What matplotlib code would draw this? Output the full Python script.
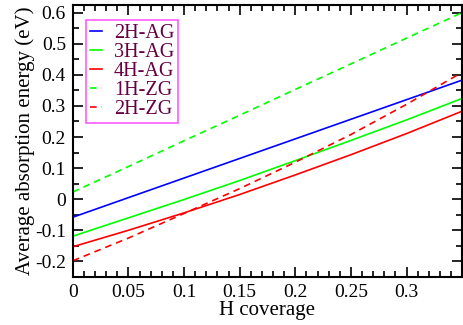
import numpy as np
import matplotlib
matplotlib.use("Agg")
from matplotlib import pyplot as plt
from matplotlib.ticker import MultipleLocator

# H coverage samples and energies (eV)
coverage = [0.0, 0.05, 0.10, 0.15, 0.20, 0.25, 0.30, 0.35]
e_2h_ag = [-0.058, 0.005, 0.068, 0.131, 0.194, 0.257, 0.320, 0.383]
e_3h_ag = [-0.119, -0.060, -0.001, 0.060, 0.124, 0.189, 0.255, 0.324]
e_4h_ag = [-0.153, -0.100, -0.044, 0.015, 0.078, 0.143, 0.211, 0.283]
e_1h_zg = [0.023, 0.105, 0.188, 0.270, 0.353, 0.435, 0.518, 0.600]
e_2h_zg = [-0.198, -0.125, -0.046, 0.034, 0.119, 0.208, 0.305, 0.408]

plt.rcParams["font.family"] = ["Liberation Serif", "DejaVu Serif"]

fig = plt.figure(figsize=(4.64, 3.25), dpi=100)
ax = fig.add_axes([0.157, 0.148, 0.839, 0.837])

lw = 1.2
ax.plot(coverage, e_2h_ag, color="#0000ff", lw=lw, label="2H-AG")
ax.plot(coverage, e_3h_ag, color="#00ff00", lw=lw, label="3H-AG")
ax.plot(coverage, e_4h_ag, color="#ff0000", lw=lw, label="4H-AG")
ax.plot(coverage, e_1h_zg, color="#00ff00", lw=lw, dashes=(4, 3), label="1H-ZG")
ax.plot(coverage, e_2h_zg, color="#ff0000", lw=lw, dashes=(4, 3), label="2H-ZG")

ax.set_xlim(0, 0.35)
ax.set_ylim(-0.25, 0.625)
ax.xaxis.set_minor_locator(MultipleLocator(0.01))
ax.yaxis.set_minor_locator(MultipleLocator(0.05))
ax.set_xticks([0, 0.05, 0.1, 0.15, 0.2, 0.25, 0.3])
ax.set_xticklabels(["0", "0.05", "0.1", "0.15", "0.2", "0.25", "0.3"])
ax.set_yticks([-0.2, -0.1, 0, 0.1, 0.2, 0.3, 0.4, 0.5, 0.6])
ax.set_yticklabels(["-0.2", "-0.1", "0", "0.1", "0.2", "0.3", "0.4", "0.5", "0.6"])

ax.tick_params(which="both", direction="in", top=True, right=True,
               labelsize=14, width=1.2, pad=5)
ax.tick_params(which="major", length=7)
ax.tick_params(which="minor", length=4)
for sp in ax.spines.values():
    sp.set_linewidth(1.5)

ax.set_xlabel("H coverage", fontsize=15, labelpad=0)
ax.set_ylabel("Average absorption energy (eV)", fontsize=15, labelpad=0)

leg = ax.legend(loc="upper left", bbox_to_anchor=(0.033, 0.945), fontsize=14.5,
                frameon=True, fancybox=False, handlelength=0.6,
                handletextpad=0.6, borderpad=0.2, labelspacing=0.0,
                borderaxespad=0)
leg.get_frame().set_edgecolor("#ff33ff")
leg.get_frame().set_linewidth(1.2)
for t in leg.get_texts():
    t.set_color("#660044")

fig.savefig("out.png", dpi=100)
